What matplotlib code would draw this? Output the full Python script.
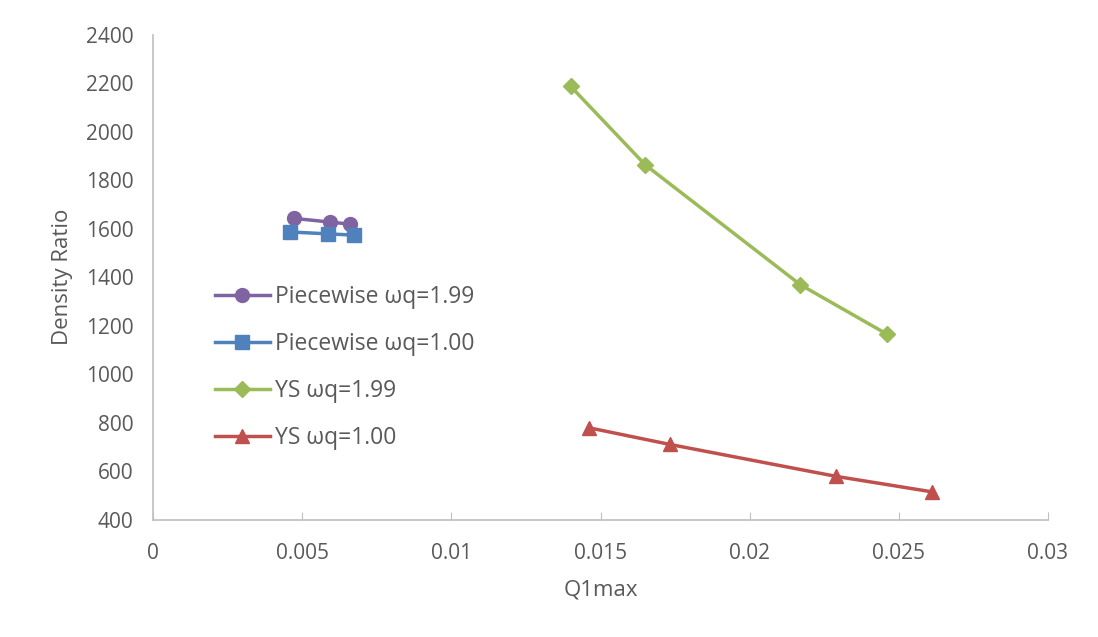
import matplotlib
matplotlib.use("Agg")
import matplotlib.pyplot as plt

# data
pw199_x = [0.00472, 0.00592, 0.00662]
pw199_y = [1643, 1628, 1619]
pw100_x = [0.00459, 0.00587, 0.00674]
pw100_y = [1587, 1579, 1574]
ys199_x = [0.01400, 0.01650, 0.02170, 0.02459]
ys199_y = [2188, 1864, 1369, 1166]
ys100_x = [0.01460, 0.01732, 0.02290, 0.02612]
ys100_y = [779, 710, 578, 514]

xticks = [0, 0.005, 0.01, 0.015, 0.02, 0.025, 0.03]
xticklabels = ["0", "0.005", "0.01", "0.015", "0.02", "0.025", "0.03"]
yticks = list(range(400, 2401, 200))

plt.rcParams['font.family'] = ['Open Sans', 'DejaVu Sans']

fig = plt.figure(figsize=(10.98, 6.37), dpi=100)
ax = fig.add_axes([153/1098, 1 - 519.5/637, (1048-153)/1098, (519.5-35)/637])

ax.plot(pw199_x, pw199_y, color='#8064A2', lw=2.5, marker='o', ms=10, label='Piecewise ωq=1.99')
ax.plot(pw100_x, pw100_y, color='#4F81BD', lw=2.5, marker='s', ms=10, label='Piecewise ωq=1.00')
ax.plot(ys199_x, ys199_y, color='#9BBB59', lw=2.5, marker='D', ms=8, label='YS ωq=1.99')
ax.plot(ys100_x, ys100_y, color='#C0504D', lw=2.5, marker='^', ms=10, label='YS ωq=1.00')

ax.set_xlim(0, 0.03)
ax.set_ylim(400, 2400)
ax.set_xticks(xticks)
ax.set_xticklabels(xticklabels)
ax.set_yticks(yticks)

for s in ['top', 'right']:
    ax.spines[s].set_visible(False)
for s in ['left', 'bottom']:
    ax.spines[s].set_color('#BFBFBF')
    ax.spines[s].set_linewidth(1.2)

ax.tick_params(axis='x', direction='in', length=6, color='#BFBFBF', labelsize=15, labelcolor='#595959', pad=17)
ax.tick_params(axis='y', length=0, labelsize=15, labelcolor='#595959', pad=14)

ax.set_xlabel('Q1max', fontsize=16, color='#595959', labelpad=11)
ax.set_ylabel('Density Ratio', fontsize=16, color='#595959', labelpad=9)

leg = ax.legend(loc='upper left', bbox_to_anchor=(0.059, 0.503), frameon=False, fontsize=16.5,
                handlelength=2.4, handletextpad=0.2, labelspacing=1.0, borderaxespad=0)
for t in leg.get_texts():
    t.set_color('#595959')

fig.savefig('out.png', dpi=100)
